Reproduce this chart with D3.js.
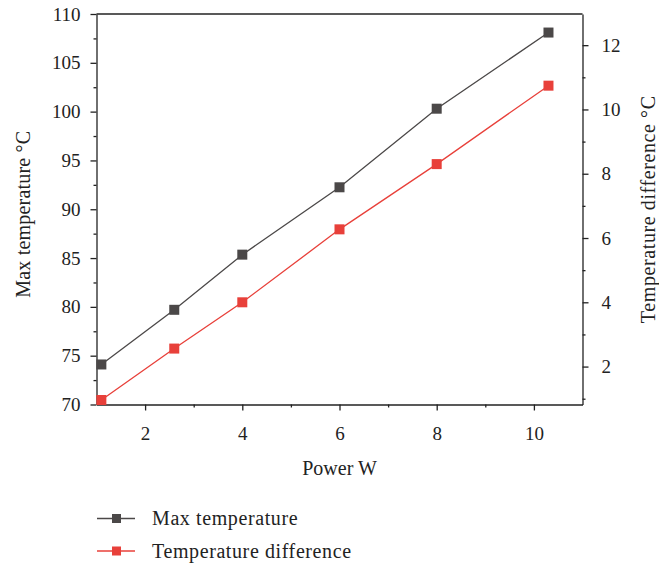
<!DOCTYPE html>
<html><head><meta charset="utf-8">
<script src="https://cdn.jsdelivr.net/npm/d3@7/dist/d3.min.js"></script>
<style>body{margin:0;background:#fff}svg{display:block}text{font-family:"Liberation Serif","DejaVu Serif",serif;fill:#222}</style>
</head><body><svg id="c" width="659" height="565"></svg>
<script>
const power = [1.1, 2.6, 4, 6, 8, 10.3];
const maxTemp = [74.1, 79.7, 85.35, 92.25, 100.3, 108.1];
const tempDiff = [0.96, 2.56, 4.0, 6.27, 8.3, 10.74];
const xTicks = [2, 4, 6, 8, 10];
const yLeftTicks = [70, 75, 80, 85, 90, 95, 100, 105, 110];
const yRightTicks = [2, 4, 6, 8, 10, 12];
const seriesNames = ["Max temperature", "Temperature difference"];
const colors = ["#4b4848", "#e8403a"];

const svg = d3.select("#c");
const L = 96.5, R = 582.5, T = 14, B = 404.5;
const x = d3.scaleLinear().domain([1, 11]).range([L, R]);
const yL = d3.scaleLinear().domain([70, 110]).range([B, T]);
const yR = d3.scaleLinear().domain([0.82, 12.97]).range([B, T]);
const fs = 19;

// frame
svg.append("line").attr("x1", L).attr("x2", R).attr("y1", T).attr("y2", T).attr("stroke", "#222").attr("stroke-width", 1.3);

function styleAxis(g) {
  g.select(".domain").attr("stroke", "#222").attr("stroke-width", 1.3);
  g.selectAll(".tick line").attr("stroke", "#222").attr("stroke-width", 1.3);
  g.selectAll(".tick text").style("font-size", fs + "px").attr("fill", "#222");
}
// x axis
const gx = svg.append("g").attr("transform", `translate(0,${B})`)
  .call(d3.axisBottom(x).tickValues(xTicks).tickFormat(d3.format("d")).tickSizeInner(6).tickSizeOuter(0).tickPadding(16));
styleAxis(gx);
svg.append("g").attr("transform", `translate(0,${B})`)
  .call(d3.axisBottom(x).tickValues(d3.range(3, 11, 2)).tickFormat("").tickSizeInner(3).tickSizeOuter(0))
  .call(g => { g.select(".domain").remove(); g.selectAll("line").attr("stroke", "#222").attr("stroke-width", 1.3); });

// left axis
const gl = svg.append("g").attr("transform", `translate(${L},0)`)
  .call(d3.axisLeft(yL).tickValues(yLeftTicks).tickFormat(d3.format("d")).tickSizeInner(6).tickSizeOuter(0).tickPadding(10));
styleAxis(gl);
svg.append("g").attr("transform", `translate(${L},0)`)
  .call(d3.axisLeft(yL).tickValues(d3.range(72.5, 110, 5)).tickFormat("").tickSizeInner(3).tickSizeOuter(0))
  .call(g => { g.select(".domain").remove(); g.selectAll("line").attr("stroke", "#222").attr("stroke-width", 1.3); });

// right axis
const gr = svg.append("g").attr("transform", `translate(${R},0)`)
  .call(d3.axisRight(yR).tickValues(yRightTicks).tickFormat(d3.format("d")).tickSizeInner(6).tickSizeOuter(0).tickPadding(13));
styleAxis(gr);
svg.append("g").attr("transform", `translate(${R},0)`)
  .call(d3.axisRight(yR).tickValues([1, 3, 5, 7, 9, 11]).tickFormat("").tickSizeInner(3).tickSizeOuter(0))
  .call(g => { g.select(".domain").remove(); g.selectAll("line").attr("stroke", "#222").attr("stroke-width", 1.3); });

// axis titles
svg.append("text").attr("x", (L + R) / 2).attr("y", 475).attr("text-anchor", "middle").style("font-size", "20px").text("Power W");
svg.append("text").attr("transform", `translate(30,${(T + B) / 2 + 5}) rotate(-90)`).attr("text-anchor", "middle").style("font-size", "20px").style("letter-spacing", "0.2px").text("Max temperature °C");
svg.append("text").attr("transform", `translate(655,${(T + B) / 2}) rotate(-90)`).attr("text-anchor", "middle").style("font-size", "20px").style("letter-spacing", "0.6px").text("Temperature difference °C");

// series
const data = [
  power.map((p, i) => [x(p), yL(maxTemp[i])]),
  power.map((p, i) => [x(p), yR(tempDiff[i])])
];
const ms = 10;
data.forEach((pts, k) => {
  svg.append("path").attr("d", d3.line()(pts)).attr("fill", "none").attr("stroke", colors[k]).attr("stroke-width", 1.3);
  svg.selectAll(null).data(pts).enter().append("rect")
    .attr("x", d => d[0] - ms / 2).attr("y", d => d[1] - ms / 2).attr("width", ms).attr("height", ms).attr("fill", colors[k]);
});

// legend
const ly = [518.5, 551];
seriesNames.forEach((n, k) => {
  svg.append("line").attr("x1", 97).attr("x2", 135).attr("y1", ly[k]).attr("y2", ly[k]).attr("stroke", colors[k]).attr("stroke-width", 1.3);
  svg.append("rect").attr("x", 116.5 - 4.5).attr("y", ly[k] - 4.5).attr("width", 9).attr("height", 9).attr("fill", colors[k]);
  svg.append("text").attr("x", 152).attr("y", ly[k] + 6.5).style("font-size", "20px").style("letter-spacing", "0.6px").text(n);
});
</script></body></html>
